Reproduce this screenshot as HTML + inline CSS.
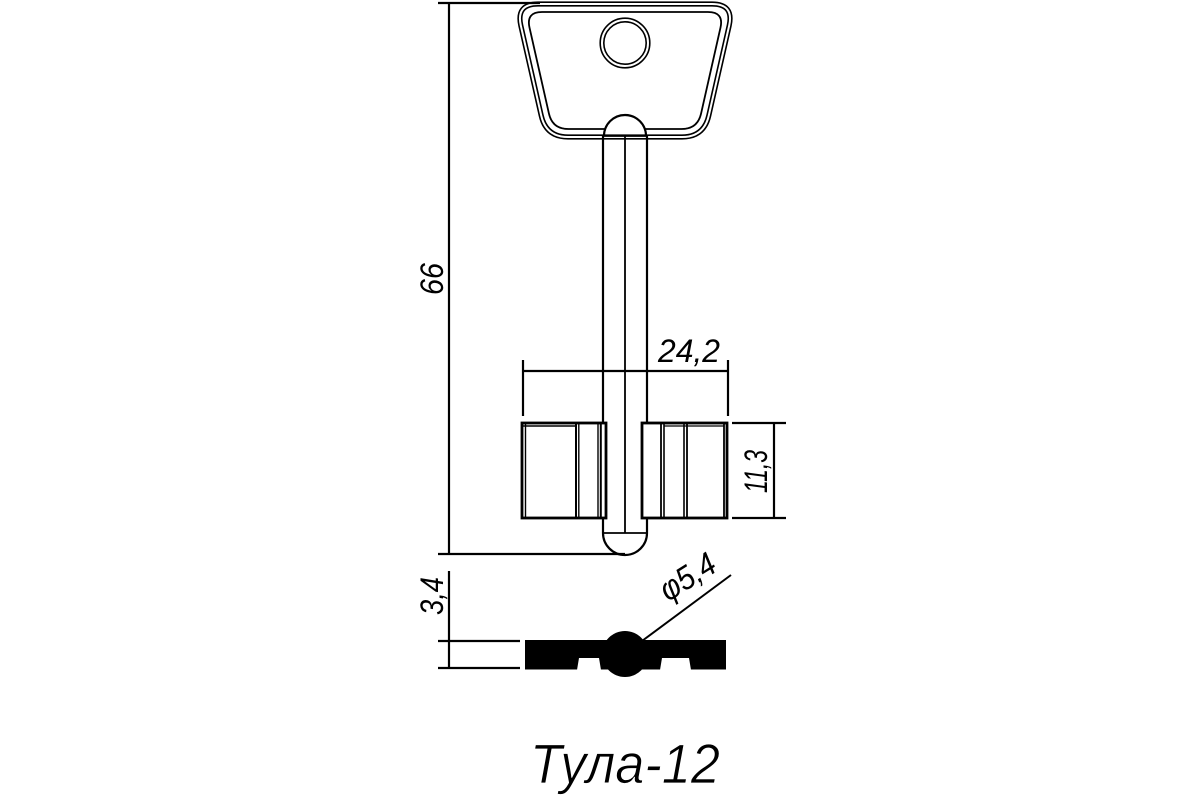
<!DOCTYPE html>
<html>
<head>
<meta charset="utf-8">
<style>
  html, body { margin: 0; padding: 0; background: #fff; }
  svg { display: block; }
  .t { font-family: "Liberation Sans", "DejaVu Sans", sans-serif; font-style: italic; fill: #000; }
</style>
</head>
<body>
<svg width="1200" height="800" viewBox="0 0 1200 800" xmlns="http://www.w3.org/2000/svg">
  <rect x="0" y="0" width="1200" height="800" fill="#fff"/>

  <!-- Head outer double line -->
  <path d="M538,4 L712,4 Q734,4 729.2,25.5 L708.8,115.5 Q704,137 682,137 L568,137 Q546,137 541.2,115.5 L520.8,25.5 Q516,4 538,4 Z"
        fill="none" stroke="#000" stroke-width="5.2"/>
  <path d="M538,4 L712,4 Q734,4 729.2,25.5 L708.8,115.5 Q704,137 682,137 L568,137 Q546,137 541.2,115.5 L520.8,25.5 Q516,4 538,4 Z"
        fill="none" stroke="#fff" stroke-width="2"/>
  <!-- Head inner line -->
  <path d="M542,12 L708,12 Q724,12 720.5,27.6 L701.1,113.4 Q697.6,129 681.6,129 L568.4,129 Q552.4,129 548.9,113.4 L529.5,27.6 Q526,12 542,12 Z"
        fill="none" stroke="#000" stroke-width="1.8"/>

  <!-- Hole -->
  <circle cx="625" cy="43" r="23" fill="none" stroke="#000" stroke-width="5.2"/>
  <circle cx="625" cy="43" r="23" fill="none" stroke="#fff" stroke-width="2"/>

  <!-- Bump at top of shaft -->
  <path d="M604,133 L604,135 A21,21 0 0 1 646,135 L646,133 Z" fill="#fff" stroke="none"/>
  <path d="M604,136 A21,21 0 0 1 646,136" fill="none" stroke="#000" stroke-width="2.2"/>
  <line x1="603" y1="136" x2="647" y2="136" stroke="#000" stroke-width="1.8"/>

  <!-- Shaft -->
  <line x1="603" y1="136" x2="603" y2="533" stroke="#000" stroke-width="2.2"/>
  <line x1="647" y1="136" x2="647" y2="533" stroke="#000" stroke-width="2.2"/>
  <line x1="625" y1="136" x2="625" y2="533" stroke="#000" stroke-width="1.8"/>
  <line x1="603" y1="533" x2="647" y2="533" stroke="#000" stroke-width="1.8"/>
  <path d="M603,533 A22,22 0 0 0 647,533" fill="none" stroke="#000" stroke-width="2.2"/>

  <!-- Dimension 66 -->
  <line x1="438" y1="3" x2="540" y2="3" stroke="#000" stroke-width="2.2"/>
  <line x1="449" y1="3" x2="449" y2="555" stroke="#000" stroke-width="2.2"/>
  <line x1="438" y1="554" x2="625" y2="554" stroke="#000" stroke-width="2.2"/>
  <text class="t" transform="translate(443,295) rotate(-90)" font-size="32" textLength="32" lengthAdjust="spacingAndGlyphs">66</text>

  <!-- Dimension 24,2 -->
  <line x1="523" y1="371" x2="728" y2="371" stroke="#000" stroke-width="2.2"/>
  <line x1="523" y1="360" x2="523" y2="416" stroke="#000" stroke-width="2.2"/>
  <line x1="728" y1="360" x2="728" y2="416" stroke="#000" stroke-width="2.2"/>
  <text class="t" x="658" y="362" font-size="32" textLength="62" lengthAdjust="spacingAndGlyphs">24,2</text>

  <!-- Left ward block -->
  <rect x="522" y="423" width="84" height="95" fill="#fff" stroke="#000" stroke-width="2.8"/>
  <line x1="525.5" y1="424" x2="525.5" y2="517" stroke="#000" stroke-width="1.4"/>
  <line x1="523" y1="426" x2="577" y2="426" stroke="#000" stroke-width="1.4"/>
  <line x1="576" y1="423" x2="576" y2="518" stroke="#000" stroke-width="2"/>
  <line x1="578.8" y1="423" x2="578.8" y2="518" stroke="#000" stroke-width="1.4"/>
  <line x1="598" y1="423" x2="598" y2="518" stroke="#000" stroke-width="1.4"/>
  <line x1="600.8" y1="423" x2="600.8" y2="518" stroke="#000" stroke-width="2"/>

  <!-- Right ward block -->
  <rect x="642" y="423" width="85" height="95" fill="#fff" stroke="#000" stroke-width="2.8"/>
  <line x1="661" y1="423" x2="661" y2="518" stroke="#000" stroke-width="1.8"/>
  <line x1="664" y1="423" x2="664" y2="518" stroke="#000" stroke-width="1.6"/>
  <line x1="684" y1="423" x2="684" y2="518" stroke="#000" stroke-width="1.6"/>
  <line x1="687" y1="423" x2="687" y2="518" stroke="#000" stroke-width="1.8"/>
  <line x1="724" y1="423" x2="724" y2="518" stroke="#000" stroke-width="1.8"/>
  <line x1="664" y1="426" x2="724" y2="426" stroke="#000" stroke-width="1.2"/>

  <!-- Dimension 11,3 -->
  <line x1="732" y1="423" x2="786" y2="423" stroke="#000" stroke-width="2.2"/>
  <line x1="732" y1="518" x2="786" y2="518" stroke="#000" stroke-width="2.2"/>
  <line x1="774" y1="423" x2="774" y2="518" stroke="#000" stroke-width="2.2"/>
  <text class="t" transform="translate(767,493) rotate(-90)" font-size="32" textLength="43" lengthAdjust="spacingAndGlyphs">11,3</text>

  <!-- Dimension 3,4 -->
  <line x1="449" y1="571" x2="449" y2="668" stroke="#000" stroke-width="2.2"/>
  <line x1="438" y1="641" x2="520" y2="641" stroke="#000" stroke-width="2.2"/>
  <line x1="438" y1="668" x2="520" y2="668" stroke="#000" stroke-width="2.2"/>
  <text class="t" transform="translate(443,615) rotate(-90)" font-size="32" textLength="38" lengthAdjust="spacingAndGlyphs">3,4</text>

  <!-- Cross-section profile -->
  <rect x="525" y="640" width="201" height="29.5" fill="#000"/>
  <polygon points="577,670 579,658 599,658 601,670" fill="#fff"/>
  <polygon points="660,670 662,658 689,658 691,670" fill="#fff"/>
  <circle cx="625" cy="654" r="23" fill="#000"/>

  <!-- Leader φ5,4 -->
  <line x1="642" y1="641" x2="731" y2="575" stroke="#000" stroke-width="2"/>
  <text class="t" transform="translate(668,602) rotate(-32)" font-size="33" textLength="60" lengthAdjust="spacingAndGlyphs">φ5,4</text>

  <!-- Title -->
  <text class="t" x="530" y="783" font-size="56" stroke="#fff" stroke-width="0.8" textLength="190" lengthAdjust="spacingAndGlyphs">Тула-12</text>
</svg>
</body>
</html>
